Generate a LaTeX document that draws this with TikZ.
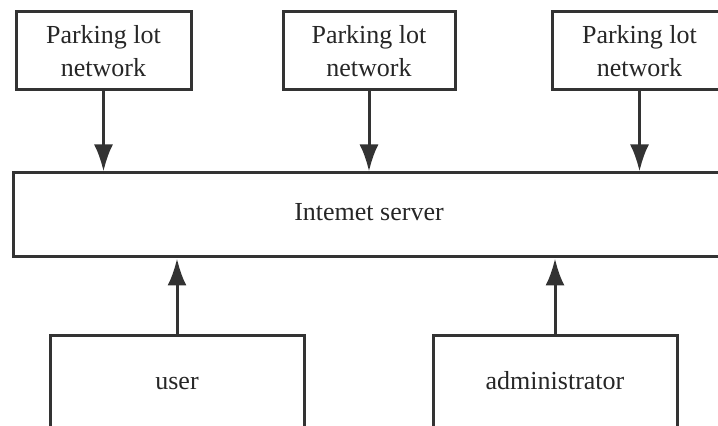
\documentclass[tikz,border=0pt]{standalone}
\usepackage{fontspec}
\setmainfont{Liberation Serif}
\usetikzlibrary{arrows.meta}

\begin{document}
\begin{tikzpicture}[x=0.5pt, y=-0.5pt,
		box/.style={rectangle, draw=black!80, line width=1.5pt, align=center, inner sep=0pt, font=\fontsize{13}{16.5}\selectfont, text=black!85},
		line/.style={text height=9pt, text depth=3pt},
		link/.style={-{Latex[length=13.5pt, width=9.5pt]}, draw=black!80, line width=1.5pt}]
		\useasboundingbox (0,0) rectangle (718,426);
		\clip (0,0) rectangle (718,426);
		\node (net_1) at (103.5,51) [box, minimum width=87.5pt, minimum height=39pt] {Parking lot\\network};
		\node (net_2) at (369,51) [box, minimum width=86pt, minimum height=39pt] {Parking lot\\network};
		\node (net_3) at (639.5,51) [box, minimum width=87.5pt, minimum height=39pt] {Parking lot\\network};
		\node (server) at (369,215) [box, line, minimum width=356pt, minimum height=42pt] {Intemet server};
		\node (user) at (177,384) [box, line, minimum width=127pt, minimum height=48pt] {user};
		\node (admin) at (555,384) [box, line, minimum width=122pt, minimum height=48pt] {administrator};
		
		% networks feed the server
		\draw[link] (net_1) -- (net_1 |- server.north);
		\draw[link] (net_2) -- (net_2 |- server.north);
		\draw[link] (net_3) -- (net_3 |- server.north);
		% clients reach the server
		\draw[link] (user) -- (user |- server.south);
		\draw[link] (admin) -- (admin |- server.south);
	\end{tikzpicture}
\end{document}
